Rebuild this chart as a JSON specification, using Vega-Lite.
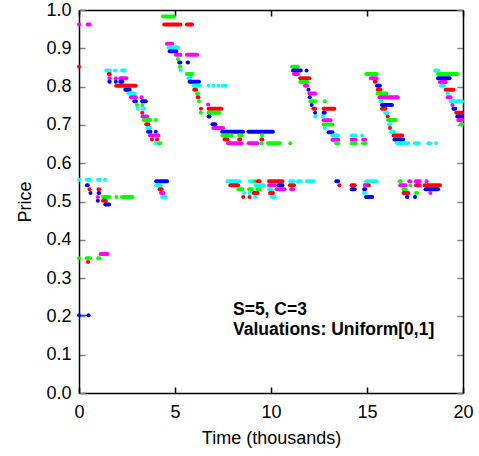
{
  "$schema": "https://vega.github.io/schema/vega-lite/v6.json",
  "width": 384,
  "height": 383,
  "autosize": {"type": "none"},
  "padding": {"left": 79, "top": 10, "right": 16, "bottom": 63},
  "background": "white",
  "config": {"view": {"stroke": null}, "font": "Liberation Sans"},
  "datasets": {
    "runs": [
      {"c":"m","x":0,"x2":0,"y":0.962},{"c":"m","x":0.45,"x2":0.55,"y":0.962},
      {"c":"r","x":0,"x2":0,"y":0.852},
      {"c":"g","x":4.37,"x2":4.94,"y":0.983},
      {"c":"r","x":4.44,"x2":5.28,"y":0.962},{"c":"r","x":5.62,"x2":5.89,"y":0.962},

      {"c":"c","x":1.42,"x2":1.6,"y":0.842},{"c":"c","x":1.88,"x2":1.88,"y":0.842},{"c":"c","x":2.24,"x2":2.38,"y":0.842},
      {"c":"r","x":1.55,"x2":1.6,"y":0.833},
      {"c":"m","x":1.58,"x2":1.6,"y":0.822},{"c":"m","x":1.92,"x2":1.92,"y":0.822},{"c":"m","x":2.15,"x2":2.47,"y":0.822},
      {"c":"b","x":1.58,"x2":1.6,"y":0.8125},{"c":"b","x":1.92,"x2":1.92,"y":0.8125},{"c":"b","x":2.15,"x2":2.26,"y":0.8125},
      {"c":"r","x":1.94,"x2":2.95,"y":0.802},
      {"c":"b","x":2.41,"x2":2.64,"y":0.792},
      {"c":"c","x":2.58,"x2":2.9,"y":0.782},
      {"c":"m","x":2.7,"x2":2.96,"y":0.772},{"c":"m","x":3.26,"x2":3.26,"y":0.772},
      {"c":"b","x":2.88,"x2":2.96,"y":0.762},{"c":"b","x":3.29,"x2":3.48,"y":0.762},
      {"c":"g","x":3.02,"x2":3.02,"y":0.752},{"c":"g","x":3.3,"x2":3.3,"y":0.752},
      {"c":"c","x":3.05,"x2":3.05,"y":0.742},{"c":"c","x":3.33,"x2":3.4,"y":0.742},
      {"c":"r","x":3.29,"x2":3.29,"y":0.732},
      {"c":"m","x":3.31,"x2":3.55,"y":0.722},
      {"c":"g","x":3.36,"x2":3.72,"y":0.713},{"c":"g","x":4.0,"x2":4.0,"y":0.713},
      {"c":"r","x":3.5,"x2":3.61,"y":0.702},
      {"c":"c","x":3.55,"x2":3.72,"y":0.692},
      {"c":"b","x":3.6,"x2":3.72,"y":0.682},{"c":"b","x":4.0,"x2":4.0,"y":0.682},
      {"c":"m","x":3.7,"x2":4.13,"y":0.672},
      {"c":"r","x":3.8,"x2":3.8,"y":0.662},{"c":"r","x":4.06,"x2":4.07,"y":0.662},
      {"c":"c","x":3.99,"x2":3.99,"y":0.652},
      {"c":"g","x":4.16,"x2":4.23,"y":0.652},

      {"c":"m","x":4.58,"x2":4.85,"y":0.912},
      {"c":"c","x":4.67,"x2":5.16,"y":0.902},
      {"c":"b","x":4.72,"x2":5.07,"y":0.892},
      {"c":"m","x":5.05,"x2":5.28,"y":0.883},{"c":"m","x":5.62,"x2":6.15,"y":0.883},
      {"c":"g","x":5.15,"x2":5.15,"y":0.872},
      {"c":"b","x":5.22,"x2":5.28,"y":0.863},{"c":"b","x":5.66,"x2":5.68,"y":0.863},
      {"c":"g","x":5.25,"x2":5.28,"y":0.852},
      {"c":"c","x":5.3,"x2":5.3,"y":0.842},
      {"c":"g","x":5.62,"x2":5.9,"y":0.833},
      {"c":"c","x":5.7,"x2":5.8,"y":0.822},
      {"c":"b","x":5.76,"x2":6.25,"y":0.8125},
      {"c":"c","x":5.97,"x2":6.29,"y":0.802},{"c":"c","x":6.74,"x2":6.74,"y":0.802},{"c":"c","x":7.0,"x2":7.0,"y":0.802},{"c":"c","x":7.26,"x2":7.26,"y":0.802},{"c":"c","x":7.5,"x2":7.65,"y":0.802},
      {"c":"r","x":6.0,"x2":6.1,"y":0.792},
      {"c":"g","x":6.15,"x2":6.2,"y":0.782},
      {"c":"r","x":6.18,"x2":6.22,"y":0.772},
      {"c":"g","x":6.25,"x2":6.25,"y":0.762},
      {"c":"m","x":6.72,"x2":6.72,"y":0.753},
      {"c":"r","x":6.35,"x2":6.35,"y":0.742},{"c":"r","x":6.75,"x2":7.42,"y":0.742},
      {"c":"g","x":6.35,"x2":6.35,"y":0.732},{"c":"g","x":6.75,"x2":7.3,"y":0.732},
      {"c":"b","x":6.75,"x2":6.8,"y":0.722},
      {"c":"b","x":6.95,"x2":7.1,"y":0.702},
      {"c":"m","x":7.0,"x2":7.5,"y":0.692},
      {"c":"b","x":7.46,"x2":8.55,"y":0.682},{"c":"b","x":8.83,"x2":10.1,"y":0.682},
      {"c":"g","x":7.48,"x2":7.94,"y":0.672},{"c":"g","x":8.35,"x2":8.45,"y":0.672},{"c":"g","x":9.53,"x2":9.53,"y":0.672},
      {"c":"r","x":7.58,"x2":7.73,"y":0.662},{"c":"r","x":8.34,"x2":8.4,"y":0.662},{"c":"r","x":9.5,"x2":9.55,"y":0.662},
      {"c":"m","x":7.76,"x2":8.46,"y":0.652},{"c":"m","x":8.83,"x2":9.29,"y":0.652},
      {"c":"g","x":9.5,"x2":9.5,"y":0.652},{"c":"g","x":9.84,"x2":10.46,"y":0.652},{"c":"g","x":11.0,"x2":11.0,"y":0.652},

      {"c":"g","x":11.1,"x2":11.4,"y":0.852},
      {"c":"b","x":11.15,"x2":11.55,"y":0.842},{"c":"b","x":11.85,"x2":11.85,"y":0.842},
      {"c":"m","x":11.2,"x2":11.4,"y":0.833},
      {"c":"r","x":11.52,"x2":12.0,"y":0.822},
      {"c":"g","x":11.52,"x2":11.9,"y":0.812},
      {"c":"m","x":11.77,"x2":11.88,"y":0.802},
      {"c":"b","x":11.95,"x2":11.95,"y":0.792},
      {"c":"m","x":12.0,"x2":12.3,"y":0.782},
      {"c":"b","x":12.02,"x2":12.02,"y":0.772},
      {"c":"g","x":12.05,"x2":12.3,"y":0.762},{"c":"g","x":12.8,"x2":12.8,"y":0.762},
      {"c":"b","x":12.12,"x2":12.12,"y":0.752},
      {"c":"r","x":12.2,"x2":12.3,"y":0.742},{"c":"r","x":12.74,"x2":13.3,"y":0.742},
      {"c":"b","x":12.3,"x2":12.3,"y":0.732},{"c":"b","x":12.74,"x2":12.8,"y":0.732},
      {"c":"c","x":12.3,"x2":12.3,"y":0.722},{"c":"c","x":12.7,"x2":12.7,"y":0.722},
      {"c":"m","x":12.74,"x2":13.1,"y":0.712},
      {"c":"g","x":12.74,"x2":13.2,"y":0.701},
      {"c":"c","x":12.8,"x2":12.8,"y":0.692},
      {"c":"b","x":13.0,"x2":13.2,"y":0.681},
      {"c":"c","x":13.2,"x2":13.5,"y":0.672},{"c":"c","x":14.2,"x2":14.4,"y":0.672},{"c":"c","x":14.75,"x2":14.75,"y":0.672},
      {"c":"m","x":13.2,"x2":13.5,"y":0.661},{"c":"m","x":14.2,"x2":14.4,"y":0.661},{"c":"m","x":14.8,"x2":14.9,"y":0.661},
      {"c":"g","x":13.4,"x2":13.5,"y":0.652},{"c":"g","x":14.2,"x2":14.4,"y":0.652},{"c":"g","x":14.8,"x2":14.9,"y":0.652},

      {"c":"g","x":14.96,"x2":15.5,"y":0.833},
      {"c":"m","x":15.2,"x2":15.5,"y":0.822},
      {"c":"r","x":15.4,"x2":15.45,"y":0.8125},
      {"c":"b","x":15.52,"x2":15.67,"y":0.802},
      {"c":"r","x":15.56,"x2":15.7,"y":0.792},
      {"c":"g","x":15.55,"x2":16.0,"y":0.782},
      {"c":"m","x":15.65,"x2":16.6,"y":0.772},
      {"c":"c","x":15.7,"x2":15.75,"y":0.762},
      {"c":"b","x":15.78,"x2":16.3,"y":0.752},
      {"c":"r","x":15.78,"x2":15.96,"y":0.742},
      {"c":"c","x":15.95,"x2":16.05,"y":0.732},
      {"c":"r","x":16.08,"x2":16.08,"y":0.722},
      {"c":"g","x":16.1,"x2":16.5,"y":0.713},
      {"c":"c","x":16.16,"x2":16.2,"y":0.702},
      {"c":"r","x":16.2,"x2":16.2,"y":0.692},
      {"c":"c","x":16.25,"x2":16.4,"y":0.682},
      {"c":"r","x":16.38,"x2":16.83,"y":0.672},
      {"c":"b","x":16.43,"x2":16.88,"y":0.662},
      {"c":"c","x":16.56,"x2":17.14,"y":0.652},{"c":"c","x":17.5,"x2":17.7,"y":0.652},{"c":"c","x":18.2,"x2":18.3,"y":0.652},{"c":"c","x":18.6,"x2":18.6,"y":0.652},

      {"c":"c","x":18.55,"x2":18.7,"y":0.842},
      {"c":"g","x":18.7,"x2":19.7,"y":0.833},
      {"c":"b","x":18.7,"x2":19.3,"y":0.822},
      {"c":"m","x":18.8,"x2":19.1,"y":0.812},
      {"c":"c","x":18.85,"x2":19.0,"y":0.802},
      {"c":"r","x":19.1,"x2":19.5,"y":0.792},
      {"c":"c","x":19.2,"x2":19.2,"y":0.782},
      {"c":"m","x":19.2,"x2":19.35,"y":0.772},
      {"c":"c","x":19.35,"x2":19.95,"y":0.762},
      {"c":"m","x":19.45,"x2":19.45,"y":0.752},
      {"c":"b","x":19.5,"x2":19.6,"y":0.742},
      {"c":"r","x":19.65,"x2":19.95,"y":0.732},
      {"c":"b","x":19.7,"x2":19.95,"y":0.722},
      {"c":"m","x":19.75,"x2":19.95,"y":0.713},
      {"c":"g","x":19.9,"x2":19.95,"y":0.702},

      {"c":"c","x":0,"x2":0,"y":0.557},{"c":"c","x":0.41,"x2":0.56,"y":0.557},{"c":"c","x":0.99,"x2":1.08,"y":0.557},{"c":"c","x":1.35,"x2":1.35,"y":0.557},
      {"c":"b","x":0.41,"x2":0.45,"y":0.5425},
      {"c":"r","x":0.55,"x2":0.55,"y":0.532},{"c":"r","x":1.02,"x2":1.05,"y":0.532},
      {"c":"b","x":0.6,"x2":0.6,"y":0.522},{"c":"b","x":1.02,"x2":1.05,"y":0.522},
      {"c":"m","x":0.98,"x2":0.98,"y":0.512},
      {"c":"g","x":1.25,"x2":1.57,"y":0.512},{"c":"g","x":1.95,"x2":1.95,"y":0.512},{"c":"g","x":2.24,"x2":2.78,"y":0.512},
      {"c":"b","x":0.98,"x2":0.98,"y":0.502},
      {"c":"r","x":1.25,"x2":1.4,"y":0.502},
      {"c":"b","x":1.37,"x2":1.57,"y":0.492},
      {"c":"b","x":4.02,"x2":4.59,"y":0.553},
      {"c":"c","x":4.02,"x2":4.25,"y":0.5425},
      {"c":"r","x":4.2,"x2":4.3,"y":0.532},
      {"c":"m","x":4.27,"x2":4.4,"y":0.522},
      {"c":"c","x":4.33,"x2":4.5,"y":0.512},

      {"c":"c","x":7.74,"x2":8.35,"y":0.553},{"c":"c","x":8.9,"x2":9.0,"y":0.553},{"c":"c","x":11.0,"x2":11.15,"y":0.553},{"c":"c","x":11.4,"x2":11.55,"y":0.553},{"c":"c","x":11.87,"x2":12.2,"y":0.553},
      {"c":"g","x":9.15,"x2":9.15,"y":0.553},
      {"c":"r","x":9.3,"x2":9.4,"y":0.553},{"c":"r","x":9.9,"x2":10.6,"y":0.553},
      {"c":"r","x":7.88,"x2":8.29,"y":0.5425},{"c":"r","x":10.98,"x2":11.2,"y":0.5425},
      {"c":"c","x":9.2,"x2":9.6,"y":0.5425},
      {"c":"m","x":9.9,"x2":10.2,"y":0.5425},
      {"c":"b","x":10.4,"x2":10.6,"y":0.5425},
      {"c":"g","x":8.3,"x2":8.5,"y":0.532},{"c":"g","x":8.85,"x2":9.0,"y":0.532},{"c":"g","x":9.3,"x2":9.4,"y":0.532},
      {"c":"c","x":9.9,"x2":10.0,"y":0.532},
      {"c":"m","x":10.3,"x2":10.7,"y":0.532},{"c":"m","x":11.05,"x2":11.15,"y":0.532},
      {"c":"c","x":8.6,"x2":8.6,"y":0.522},{"c":"c","x":8.88,"x2":8.88,"y":0.522},
      {"c":"r","x":9.1,"x2":9.3,"y":0.522},{"c":"r","x":9.95,"x2":10.1,"y":0.522},
      {"c":"r","x":8.55,"x2":8.55,"y":0.512},{"c":"r","x":8.88,"x2":8.88,"y":0.512},
      {"c":"c","x":9.17,"x2":9.17,"y":0.512},{"c":"c","x":10.05,"x2":10.2,"y":0.512},

      {"c":"b","x":13.4,"x2":13.5,"y":0.553},
      {"c":"r","x":13.56,"x2":13.56,"y":0.5425},{"c":"r","x":14.2,"x2":14.36,"y":0.5425},{"c":"r","x":14.9,"x2":15.1,"y":0.5425},
      {"c":"m","x":14.9,"x2":14.9,"y":0.5425},
      {"c":"b","x":14.2,"x2":14.36,"y":0.532},{"c":"b","x":14.85,"x2":14.9,"y":0.532},
      {"c":"c","x":14.96,"x2":15.5,"y":0.553},
      {"c":"c","x":14.85,"x2":14.9,"y":0.522},
      {"c":"b","x":14.95,"x2":15.27,"y":0.512},

      {"c":"g","x":16.7,"x2":16.75,"y":0.553},
      {"c":"m","x":17.2,"x2":17.25,"y":0.553},{"c":"m","x":17.55,"x2":17.75,"y":0.553},{"c":"m","x":18.1,"x2":18.1,"y":0.553},
      {"c":"m","x":16.73,"x2":17.0,"y":0.5425},{"c":"m","x":17.55,"x2":17.75,"y":0.5425},
      {"c":"g","x":17.25,"x2":17.25,"y":0.5425},
      {"c":"r","x":17.6,"x2":17.65,"y":0.5425},{"c":"r","x":18.0,"x2":18.8,"y":0.5425},
      {"c":"g","x":16.9,"x2":17.0,"y":0.532},
      {"c":"b","x":18.05,"x2":18.7,"y":0.532},
      {"c":"r","x":16.9,"x2":17.15,"y":0.522},
      {"c":"g","x":17.55,"x2":17.6,"y":0.522},
      {"c":"m","x":18.3,"x2":18.3,"y":0.522},
      {"c":"b","x":17.08,"x2":17.1,"y":0.512},{"c":"b","x":17.5,"x2":17.5,"y":0.512},

      {"c":"g","x":0,"x2":0,"y":0.352},{"c":"g","x":0.4,"x2":0.56,"y":0.352},{"c":"g","x":1.0,"x2":1.05,"y":0.352},
      {"c":"r","x":0.47,"x2":0.47,"y":0.342},
      {"c":"m","x":1.13,"x2":1.48,"y":0.363},
      {"c":"b","x":0,"x2":0,"y":0.203},{"c":"b","x":0.5,"x2":0.5,"y":0.203}
    ],
    "links": [
      {"c":"b","x":0,"x2":0.5,"y":0.203}
    ],
    "notes": [
      {"x":8.02,"y":0.203,"t":"S=5, C=3"},
      {"x":8.02,"y":0.151,"t":"Valuations: Uniform[0,1]"}
    ]
  },
  "resolve": {"axis": {"x": "independent", "y": "independent"}},
  "layer": [
    {
      "data": {"name": "links"},
      "mark": {"type": "rule", "strokeWidth": 1, "color": "#0000ff"},
      "encoding": {
        "x": {"field": "x", "type": "quantitative", "scale": {"domain": [0, 20], "nice": false, "zero": false, "padding": 0},
          "axis": {"orient": "bottom", "values": [0, 5, 10, 15, 20], "title": "Time (thousands)", "grid": false, "labelFlush": false,
            "tickSize": -6, "tickColor": "#000", "tickWidth": 1.5, "labelPadding": 16,
            "domainColor": "#000", "domainWidth": 1.5,
            "labelFont": "Liberation Sans", "labelFontSize": 18, "labelColor": "#000",
            "titleFont": "Liberation Sans", "titleFontSize": 18, "titleFontWeight": "normal", "titleColor": "#000", "titlePadding": 8}},
        "x2": {"field": "x2"},
        "y": {"field": "y", "type": "quantitative", "scale": {"domain": [0, 1], "nice": false, "zero": false, "padding": 0},
          "axis": {"orient": "left", "values": [0, 0.1, 0.2, 0.3, 0.4, 0.5, 0.6, 0.7, 0.8, 0.9, 1.0], "format": ".1f", "title": "Price", "grid": false, "labelFlush": false,
            "tickSize": -6, "tickColor": "#808080", "tickWidth": 1.5, "labelPadding": 14,
            "domainColor": "#000", "domainWidth": 1.5,
            "labelFont": "Liberation Sans", "labelFontSize": 18, "labelColor": "#000",
            "titleFont": "Liberation Sans", "titleFontSize": 18, "titleFontWeight": "normal", "titleColor": "#000", "titlePadding": 11}}
      }
    },
    {
      "data": {"name": "runs"},
      "mark": {"type": "rule", "strokeWidth": 4, "strokeCap": "round"},
      "encoding": {
        "x": {"field": "x", "type": "quantitative",
          "axis": {"orient": "top", "values": [0, 5, 10, 15, 20], "labels": false, "title": null, "grid": false,
            "tickSize": -6, "tickColor": "#000", "tickWidth": 1.5, "domainColor": "#000", "domainWidth": 1.5}},
        "x2": {"field": "x2"},
        "y": {"field": "y", "type": "quantitative",
          "axis": {"orient": "right", "values": [0, 0.1, 0.2, 0.3, 0.4, 0.5, 0.6, 0.7, 0.8, 0.9, 1.0], "labels": false, "title": null, "grid": false,
            "tickSize": -6, "tickColor": "#808080", "tickWidth": 1.5, "domainColor": "#000", "domainWidth": 1.5}},
        "color": {"field": "c", "type": "nominal", "legend": null,
          "scale": {"domain": ["r", "g", "b", "m", "c"], "range": ["#ff0000", "#00ff00", "#0000ff", "#ff00ff", "#00ffff"]}}
      }
    },
    {
      "data": {"name": "notes"},
      "mark": {"type": "text", "align": "left", "baseline": "alphabetic", "font": "Liberation Sans", "fontWeight": "bold", "fontSize": 17.5, "color": "#000"},
      "encoding": {
        "x": {"field": "x", "type": "quantitative", "axis": null},
        "y": {"field": "y", "type": "quantitative", "axis": null},
        "text": {"field": "t"}
      }
    }
  ]
}
